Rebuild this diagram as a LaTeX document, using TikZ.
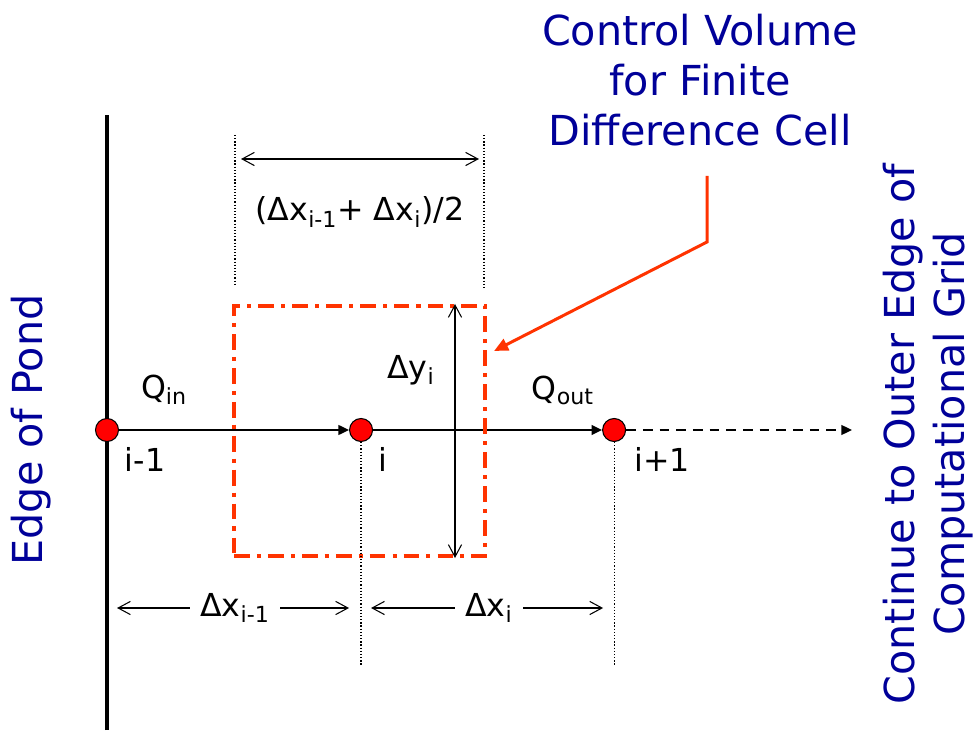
\documentclass[tikz,border=0pt]{standalone}
\usepackage{fontspec}
\setmainfont{DejaVu Sans}
\usetikzlibrary{arrows.meta, positioning, calc}
\definecolor{titleblue}{RGB}{0,0,153}
\definecolor{cvred}{RGB}{255,51,0}
\definecolor{dotred}{RGB}{255,0,0}

\begin{document}
\begin{tikzpicture}[
    >={Straight Barb[length=7pt,width=7.5pt]},
    gridpt/.style={
        circle,
        draw=black,
        line width=0.6pt,
        fill=dotred,
        minimum size=0.46cm,
        inner sep=0pt
    },
    flow/.style={
        -{Triangle[length=6pt,width=5.5pt]},
        line width=1.1pt
    },
    farflow/.style={
        flow,
        dash pattern=on 5.5pt off 4pt
    },
    dimline/.style={line width=0.6pt},
    dotline/.style={line width=0.7pt, dash pattern=on 0.7pt off 1.1pt},
    cvbox/.style={
        draw=cvred,
        line width=2.3pt,
        dash pattern=on 9pt off 4pt on 2.3pt off 4pt,
        inner sep=0pt,
        minimum width=5.02cm,
        minimum height=5cm
    },
    leader/.style={
        draw=cvred,
        line width=1.7pt,
        -{Triangle[length=8pt,width=7pt]}
    },
    lbl/.style={font=\fontsize{18}{21.5}\selectfont, inner sep=1pt},
    dimlbl/.style={lbl, inner xsep=0.2cm},
    title/.style={
        text=titleblue,
        align=center,
        font=\fontsize{23.5}{28.5}\selectfont
    }
]
\useasboundingbox (0,0) rectangle (19.54,14.6);

% Edge of pond
\draw[line width=2.3pt] (2.14,0) coordinate (pondbot) -- (2.14,12.3) coordinate (pondtop);
\node[title, rotate=90] (pond) at (0.62,6.0) {Edge of Pond};

% Grid points
\node[gridpt] (n0) at (2.14,6) {};
\node[gridpt, right=4.6cm of n0] (n1) {};
\node[gridpt, right=4.58cm of n1] (n2) {};
\coordinate (far) at (17.04,6);

\draw[flow] (n0) -- (n1);
\draw[flow] (n1) -- (n2);
\draw[farflow] (n2) -- (far);

\node[lbl] (lim1) at (2.9,5.42) {i-1};
\node[lbl] (li) at (7.66,5.42) {i};
\node[lbl] (lip1) at (13.24,5.42) {i+1};
\node[lbl] (qin) at (3.28,6.8) {Q\textsubscript{in}};
\node[lbl] (qout) at (11.26,6.8) {Q\textsubscript{out}};

% Control volume
\node[cvbox] (cv) at (7.19,5.98) {};
\draw[<->, dimline] (cv.north -| 9.1,0) -- (cv.south -| 9.1,0);
\node[lbl] (dy) at (8.22,7.2) {Δy\textsubscript{i}};

% Top dimension
\coordinate (tl) at (4.7,11.9);
\coordinate (tr) at (9.68,11.9);
\coordinate (th) at (4.7,11.42);
\draw[dotline] (tl) -- ++(0,-3.0);
\draw[dotline] (tr) -- ++(0,-3.08);
\draw[<->, dimline, shorten <=0.12cm, shorten >=0.1cm] (th) -- (th -| tr);
\node[lbl] (half) at (7.2,10.36) {(Δx\textsubscript{i-1}+ Δx\textsubscript{i})/2};

% Bottom dimensions
\coordinate (base) at (0,1.3);
\draw[dotline] (n1.south) -- (n1 |- base);
\draw[dotline] (n2.south) -- (n2 |- base);
\node[dimlbl] (dxa) at (4.7,2.44) {Δx\textsubscript{i-1}};
\draw[->, dimline, shorten >=0.2cm] (dxa.west) -- (pondtop |- dxa);
\draw[->, dimline, shorten >=0.24cm] (dxa.east) -- (n1 |- dxa);
\node[dimlbl] (dxb) at (9.78,2.44) {Δx\textsubscript{i}};
\draw[->, dimline, shorten >=0.2cm] (dxb.west) -- (n1 |- dxb);
\draw[->, dimline, shorten >=0.22cm] (dxb.east) -- (n2 |- dxb);

% Callout
\node[title] (cvtitle) at (14.0,13.0) {Control Volume\\for Finite\\Difference Cell};
\coordinate (lead) at (14.14,11.08);
\coordinate (kink) at (14.14,9.76);
\draw[leader] (lead) -- (kink) -- ([xshift=0.14cm,yshift=1.6cm]cv.east);

% Outer edge
\node[title, rotate=90] (outer) at (18.56,5.92) {Continue to Outer Edge of\\Computational Grid};

\end{tikzpicture}
\end{document}
